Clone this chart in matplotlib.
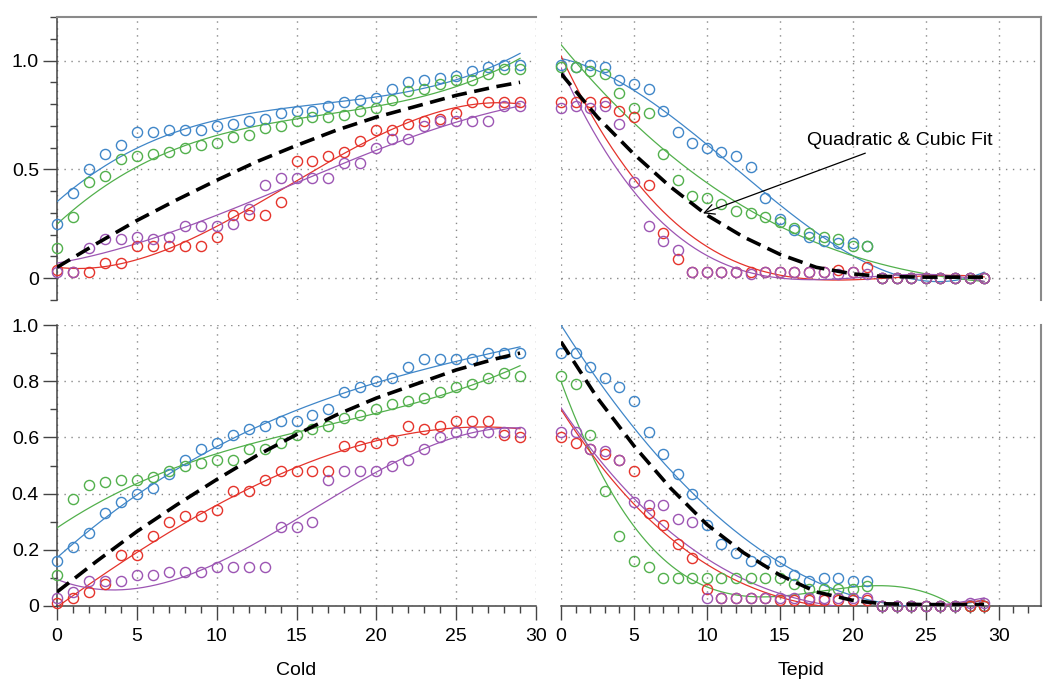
import numpy as np
import matplotlib
matplotlib.use("Agg")
import matplotlib.pyplot as plt
from matplotlib.ticker import MultipleLocator, FuncFormatter

plt.rcParams['font.family'] = ['Liberation Sans', 'DejaVu Sans']

# ---- data: 30 samples (x = 0..29) per series ----
x = np.arange(30)

cold_top_blue = [0.25, 0.39, 0.50, 0.57, 0.61, 0.67, 0.67, 0.68, 0.68, 0.68, 0.70, 0.71, 0.72, 0.73, 0.76,
                 0.77, 0.77, 0.79, 0.81, 0.82, 0.83, 0.87, 0.90, 0.91, 0.92, 0.93, 0.95, 0.97, 0.98, 0.98]
cold_top_green = [0.14, 0.28, 0.44, 0.47, 0.55, 0.56, 0.57, 0.58, 0.60, 0.61, 0.62, 0.65, 0.66, 0.69, 0.70,
                  0.72, 0.74, 0.74, 0.75, 0.77, 0.78, 0.82, 0.86, 0.87, 0.89, 0.91, 0.91, 0.94, 0.96, 0.96]
cold_top_red = [0.04, 0.03, 0.03, 0.07, 0.07, 0.15, 0.15, 0.15, 0.15, 0.15, 0.19, 0.29, 0.29, 0.29, 0.35,
                0.54, 0.54, 0.56, 0.58, 0.63, 0.68, 0.68, 0.71, 0.72, 0.73, 0.76, 0.81, 0.81, 0.81, 0.81]
cold_top_purple = [0.03, 0.03, 0.14, 0.18, 0.18, 0.19, 0.18, 0.19, 0.24, 0.24, 0.24, 0.25, 0.32, 0.43, 0.46,
                   0.46, 0.46, 0.46, 0.53, 0.53, 0.60, 0.64, 0.64, 0.70, 0.72, 0.72, 0.72, 0.72, 0.79, 0.79]

cold_bot_blue = [0.16, 0.21, 0.26, 0.33, 0.37, 0.40, 0.42, 0.47, 0.52, 0.56, 0.58, 0.61, 0.63, 0.64, 0.66,
                 0.66, 0.68, 0.70, 0.76, 0.78, 0.80, 0.81, 0.85, 0.88, 0.88, 0.88, 0.88, 0.90, 0.90, 0.90]
cold_bot_green = [0.11, 0.38, 0.43, 0.44, 0.45, 0.45, 0.46, 0.48, 0.50, 0.51, 0.52, 0.52, 0.56, 0.56, 0.58,
                  0.61, 0.63, 0.64, 0.67, 0.68, 0.70, 0.72, 0.73, 0.74, 0.76, 0.78, 0.79, 0.81, 0.83, 0.82]
cold_bot_red = [0.01, 0.03, 0.05, 0.08, 0.18, 0.18, 0.25, 0.30, 0.32, 0.32, 0.34, 0.41, 0.41, 0.45, 0.48,
                0.48, 0.48, 0.48, 0.57, 0.57, 0.58, 0.59, 0.64, 0.63, 0.64, 0.66, 0.66, 0.66, 0.61, 0.60]
cold_bot_purple = [0.03, 0.05, 0.09, 0.09, 0.09, 0.11, 0.11, 0.12, 0.12, 0.12, 0.14, 0.14, 0.14, 0.14, 0.28,
                   0.28, 0.30, 0.45, 0.48, 0.48, 0.48, 0.50, 0.52, 0.56, 0.60, 0.62, 0.62, 0.62, 0.62, 0.62]

tepid_top_blue = [0.98, 0.97, 0.98, 0.97, 0.91, 0.89, 0.87, 0.77, 0.67, 0.62, 0.60, 0.58, 0.56, 0.51, 0.37,
                  0.27, 0.22, 0.19, 0.17, 0.16, 0.16, 0.15, 0.0, 0.0, 0.0, 0.0, 0.0, 0.0, 0.0, 0.0]
tepid_top_green = [0.97, 0.97, 0.95, 0.94, 0.85, 0.78, 0.76, 0.57, 0.45, 0.38, 0.37, 0.34, 0.31, 0.30, 0.28,
                   0.26, 0.23, 0.21, 0.19, 0.18, 0.15, 0.15, 0.0, 0.0, 0.0, 0.0, 0.0, 0.0, 0.0, 0.0]
tepid_top_red = [0.81, 0.81, 0.81, 0.81, 0.77, 0.74, 0.43, 0.21, 0.09, 0.03, 0.03, 0.03, 0.03, 0.03, 0.03,
                 0.03, 0.03, 0.03, 0.03, 0.04, 0.03, 0.05, 0.0, 0.0, 0.0, 0.0, 0.0, 0.0, 0.0, 0.0]
tepid_top_purple = [0.78, 0.79, 0.78, 0.79, 0.71, 0.44, 0.24, 0.17, 0.13, 0.03, 0.03, 0.03, 0.03, 0.02, 0.03,
                    0.03, 0.03, 0.03, 0.03, 0.02, 0.03, 0.02, 0.0, 0.0, 0.0, 0.0, 0.0, 0.0, 0.0, 0.0]

tepid_bot_blue = [0.90, 0.90, 0.85, 0.81, 0.78, 0.73, 0.62, 0.54, 0.47, 0.40, 0.29, 0.22, 0.19, 0.16, 0.16,
                  0.16, 0.11, 0.09, 0.10, 0.10, 0.09, 0.09, 0.0, 0.0, 0.0, 0.0, 0.0, 0.0, 0.0, 0.0]
tepid_bot_green = [0.82, 0.79, 0.61, 0.41, 0.25, 0.16, 0.14, 0.10, 0.10, 0.10, 0.10, 0.10, 0.10, 0.10, 0.10,
                   0.10, 0.08, 0.06, 0.06, 0.06, 0.06, 0.07, 0.0, 0.0, 0.0, 0.0, 0.0, 0.0, 0.0, 0.0]
tepid_bot_red = [0.60, 0.58, 0.56, 0.54, 0.52, 0.48, 0.33, 0.29, 0.22, 0.17, 0.06, 0.03, 0.03, 0.03, 0.03,
                 0.02, 0.02, 0.02, 0.02, 0.02, 0.02, 0.02, 0.0, 0.0, 0.0, 0.0, 0.0, 0.0, 0.0, 0.0]
tepid_bot_purple = [0.62, 0.62, 0.56, 0.55, 0.52, 0.37, 0.36, 0.36, 0.31, 0.30, 0.03, 0.03, 0.03, 0.03, 0.03,
                    0.03, 0.03, 0.03, 0.03, 0.03, 0.03, 0.03, 0.0, 0.0, 0.0, 0.0, 0.0, 0.0, 0.01, 0.01]

# dashed reference curve, same in both rows of a column
cold_fit_x = [0, 2.5, 5, 7.5, 10, 12.5, 15, 17.5, 20, 22.5, 25, 27.5, 29]
cold_fit_y = [0.05, 0.16, 0.265, 0.36, 0.45, 0.535, 0.61, 0.68, 0.74, 0.79, 0.84, 0.88, 0.90]
tepid_fit_x = [0, 2.5, 5, 7.5, 10, 12.5, 15, 17.5, 20, 22, 25, 29]
tepid_fit_y = [0.94, 0.74, 0.57, 0.42, 0.29, 0.19, 0.11, 0.05, 0.02, 0.008, 0.005, 0.005]

colors = ['#3f86c8', '#52b04c', '#e5332b', '#9c55b3']

panels = [
    ('tl', [cold_top_blue, cold_top_green, cold_top_red, cold_top_purple], cold_fit_x, cold_fit_y),
    ('tr', [tepid_top_blue, tepid_top_green, tepid_top_red, tepid_top_purple], tepid_fit_x, tepid_fit_y),
    ('bl', [cold_bot_blue, cold_bot_green, cold_bot_red, cold_bot_purple], cold_fit_x, cold_fit_y),
    ('br', [tepid_bot_blue, tepid_bot_green, tepid_bot_red, tepid_bot_purple], tepid_fit_x, tepid_fit_y),
]

W, H = 1050, 682
fig = plt.figure(figsize=(W / 100, H / 100), dpi=100)


def rect(l, r, t, b):
    return [l / W, 1 - b / H, (r - l) / W, (b - t) / H]


boxes = {
    'tl': rect(57, 536, 17, 300),
    'tr': rect(561, 1041, 17, 300),
    'bl': rect(57, 536, 325, 606),
    'br': rect(561, 1041, 325, 606),
}

spine_col = '#444444'
grid_kw = dict(color='#888888', linestyle=(0, (1, 4)), linewidth=1.0)
fmt = FuncFormatter(lambda v, p: '0' if abs(v) < 1e-9 else f'{v:.1f}')

axes = {}
for key, series, fx, fy in panels:
    ax = fig.add_axes(boxes[key])
    axes[key] = ax
    left = key[1] == 'l'
    top = key[0] == 't'

    xs = np.linspace(0, 29, 200)
    for c, y in zip(colors, series):
        coef = np.polyfit(x, y, 3)
        ax.plot(xs, np.polyval(coef, xs), color=c, lw=0.9, zorder=3)
    for c, y in zip(colors, series):
        ax.plot(x, y, 'o', mfc='none', mec=c, ms=7.3, mew=1.0, zorder=4, clip_on=False)
    ax.plot(fx, fy, color='black', lw=2.6, dashes=(4.2, 2.1), zorder=5)

    ax.set_xlim(0, 30 if left else 32.9)
    if top:
        ax.set_ylim(-0.1, 1.2)
        ax.set_yticks([0, 0.5, 1.0])
    else:
        ax.set_ylim(0, 1.0)
        ax.set_yticks([0, 0.2, 0.4, 0.6, 0.8, 1.0])
    ax.yaxis.set_minor_locator(MultipleLocator(0.1))
    ax.set_xticks(range(0, 31, 5))
    ax.xaxis.set_minor_locator(MultipleLocator(1))
    ax.yaxis.set_major_formatter(fmt)

    ax.grid(True, which='major', **grid_kw)
    ax.set_axisbelow(True)

    for s in ax.spines.values():
        s.set_visible(False)
    if left:
        ax.spines['left'].set_visible(True)
        ax.spines['left'].set_color(spine_col)
        ax.spines['left'].set_linewidth(1.1)
    if not top:
        ax.spines['bottom'].set_visible(True)
        ax.spines['bottom'].set_color(spine_col)
        ax.spines['bottom'].set_linewidth(1.1)
    if top:
        ax.spines['top'].set_visible(True)
        ax.spines['top'].set_color('#8a8a8a')
        ax.spines['top'].set_linewidth(1.5)
    if not left:
        ax.spines['right'].set_visible(True)
        ax.spines['right'].set_color('#8a8a8a')
        ax.spines['right'].set_linewidth(1.5)

    ax.tick_params(which='major', direction='out', length=10, width=1.0, color=spine_col,
                   labelsize=14, pad=3)
    ax.tick_params(which='minor', direction='out', length=5, width=1.0, color=spine_col)
    ax.tick_params(axis='x', pad=6)
    ax.tick_params(left=left, labelleft=left, right=False,
                   bottom=not top, labelbottom=not top, top=False)
    ax.tick_params(which='minor', left=left, bottom=not top, right=False, top=False)

axes['bl'].set_xlabel('Cold', fontsize=14, labelpad=12)
axes['br'].set_xlabel('Tepid', fontsize=14, labelpad=12)

axes['tr'].annotate('Quadratic & Cubic Fit', xy=(9.73, 0.298), xytext=(16.85, 0.633),
                    ha='left', va='center', fontsize=14,
                    arrowprops=dict(arrowstyle='->', color='black', lw=0.9,
                                    shrinkA=3, shrinkB=0, mutation_scale=18),
                    zorder=6)

fig.savefig('out.png', dpi=100)
